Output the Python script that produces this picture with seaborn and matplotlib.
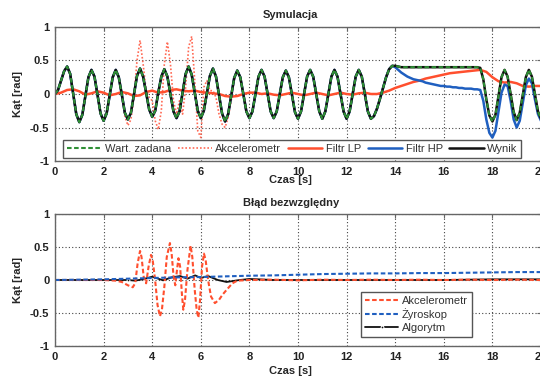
import numpy as np
import matplotlib
matplotlib.use("Agg")
import matplotlib.pyplot as plt
import seaborn as sns

# ---------------- data ----------------
# sample times
t_fine = np.arange(0, 20.0001, 0.125)     # 161 samples
t_lp = np.arange(0, 20.0001, 0.25)        # 81 samples

# Wart. zadana (reference angle)
zadana_vals = [
    0.00, 0.06, 0.20, 0.34, 0.41, 0.30, 0.00, -0.30,
    -0.42, -0.31, -0.03, 0.25, 0.36, 0.26, -0.02, -0.29,
    -0.40, -0.29, -0.02, 0.25, 0.36, 0.25, -0.01, -0.28,
    -0.38, -0.28, 0.00, 0.27, 0.38, 0.26, 0.02, -0.23,
    -0.34, -0.25, 0.02, 0.26, 0.37, 0.26, 0.00, -0.26,
    -0.36, -0.26, 0.02, 0.30, 0.41, 0.29, 0.02, -0.25,
    -0.36, -0.25, 0.01, 0.27, 0.38, 0.26, -0.01, -0.29,
    -0.41, -0.30, -0.03, 0.24, 0.35, 0.25, 0.00, -0.26,
    -0.36, -0.26, 0.00, 0.26, 0.36, 0.26, 0.00, -0.26,
    -0.36, -0.26, 0.00, 0.25, 0.35, 0.25, -0.01, -0.27,
    -0.37, -0.26, 0.00, 0.26, 0.36, 0.26, 0.00, -0.26,
    -0.37, -0.26, 0.00, 0.26, 0.36, 0.26, 0.00, -0.26,
    -0.37, -0.26, 0.00, 0.26, 0.36, 0.26, 0.00, -0.26,
    -0.37, -0.33, -0.22, -0.07, 0.09, 0.25, 0.37, 0.42,
    0.42, 0.41, 0.40, 0.40, 0.40, 0.40, 0.40, 0.40,
    0.40, 0.40, 0.40, 0.40, 0.40, 0.40, 0.40, 0.40,
    0.40, 0.40, 0.40, 0.40, 0.40, 0.40, 0.40, 0.40,
    0.40, 0.40, 0.40, 0.40, 0.39, 0.22, -0.08, -0.32,
    -0.41, -0.31, -0.03, 0.25, 0.36, 0.26, 0.00, -0.27,
    -0.39, -0.28, -0.01, 0.25, 0.36, 0.26, 0.00, -0.26,
    -0.37,
]

# Akcelerometr: follows the reference except between 2.75 s and 7.625 s
akc_mid_vals = [
    -0.03, -0.33, -0.47, -0.38, -0.05, 0.50, 0.80, 0.45,
    0.05, -0.05, -0.10, -0.40, -0.53, -0.25, 0.45, 0.78,
    0.45, -0.10, -0.30, -0.10, -0.30, 0.10, 0.70, 0.86,
    0.20, -0.55, -0.65, 0.10, 0.20, 0.05, 0.05, -0.05,
    -0.30, -0.45, -0.50, -0.35, -0.10, 0.22, 0.35, 0.25,
]
akc_vals = zadana_vals[:22] + akc_mid_vals + zadana_vals[62:]

# Filtr LP
lp_vals = [
    0.00, 0.02, 0.06, 0.07,
    0.04, -0.01, 0.01, 0.04,
    0.02, -0.02, 0.00, 0.03,
    0.01, -0.03, -0.02, 0.03,
    0.05, 0.02, 0.03, 0.06,
    0.07, 0.05, 0.04, 0.05,
    0.03, 0.02, 0.01, 0.00,
    -0.03, -0.04, -0.03, 0.00,
    0.02, 0.02, 0.00, 0.01,
    -0.01, -0.02, 0.00, 0.02,
    0.00, -0.02, 0.00, 0.02,
    0.00, -0.02, 0.00, 0.02,
    0.00, -0.01, 0.01, 0.02,
    0.00, 0.00, 0.02, 0.05,
    0.09, 0.12, 0.15, 0.18,
    0.20, 0.23, 0.25, 0.27,
    0.29, 0.31, 0.32, 0.33,
    0.34, 0.35, 0.36, 0.33,
    0.25, 0.19, 0.17, 0.18,
    0.16, 0.12, 0.11, 0.12,
    0.12,
]

# Filtr HP: same as the reference up to 13.875 s, then drifts
hp_tail_vals = [
    0.40, 0.36, 0.32, 0.29, 0.26, 0.24, 0.22, 0.21,
    0.20, 0.19, 0.17, 0.16, 0.15, 0.14, 0.13, 0.12,
    0.12, 0.11, 0.11, 0.10, 0.10, 0.09, 0.09, 0.08,
    0.08, 0.08, 0.07, 0.07, 0.06, -0.10, -0.38, -0.58,
    -0.65, -0.55, -0.27, 0.02, 0.14, 0.12, -0.10, -0.38,
    -0.50, -0.40, -0.13, 0.13, 0.23, 0.16, -0.08, -0.30,
    -0.40,
]
hp_vals = zadana_vals[:112] + hp_tail_vals

# Wynik coincides with the reference in the picture
wynik_vals = list(zadana_vals)

# ---- bottom panel: absolute errors ----
err_akc_t = [0, 1, 2, 2.5, 2.75, 3.0, 3.2, 3.3, 3.4, 3.5, 3.56, 3.65, 3.75, 3.85,
             3.95, 4.02, 4.12, 4.22, 4.32, 4.4, 4.5, 4.6, 4.73, 4.8, 4.88, 4.95,
             5.02, 5.08, 5.15, 5.22, 5.28, 5.35, 5.45, 5.58, 5.65, 5.75, 5.83, 5.9,
             5.97, 6.05, 6.13, 6.2, 6.3, 6.42, 6.58, 6.75, 6.9, 7.06, 7.3, 7.5,
             8, 9, 10, 11, 12, 13, 14, 15, 16, 17, 18, 19, 20]
err_akc_vals = [0, 0, 0, -0.01, -0.03, -0.08, -0.11, -0.05, 0.25, 0.44, 0.35, 0.05,
                -0.05, 0.20, 0.38, 0.30, 0.00, -0.38, -0.55, -0.45, -0.10, 0.35,
                0.56, 0.40, 0.05, -0.08, 0.15, 0.33, 0.20, -0.20, -0.45, -0.30,
                0.15, 0.52, 0.35, -0.15, -0.45, -0.57, -0.30, 0.20, 0.40, 0.30,
                0.00, -0.25, -0.35, -0.30, -0.22, -0.15, -0.05, -0.01,
                0.0, 0.005, -0.005, 0.005, 0, 0.005, 0, 0.005, 0, 0.005, 0, 0.005, 0]

err_zyro_t = [0, 1, 2, 3, 4, 5, 6, 7, 8, 9, 10, 11, 12, 13, 14, 15, 16, 17, 18, 19, 20]
err_zyro_vals = [0, 0.005, 0.01, 0.02, 0.03, 0.04, 0.045, 0.055, 0.065, 0.07, 0.08,
                 0.09, 0.095, 0.10, 0.10, 0.105, 0.105, 0.11, 0.115, 0.12, 0.12]

err_alg_t = [0, 1, 2, 3, 3.3, 3.6, 4.0, 4.45, 4.8, 5.15, 5.45, 5.77, 6.0, 6.3, 6.7,
             7.06, 7.6, 8.0, 8.4, 9, 10, 12, 14, 16, 18, 19, 20]
err_alg_vals = [0, 0, 0, 0, -0.01, 0.01, 0.05, -0.005, 0.04, 0.06, 0.02, 0.07, 0.03,
                0.06, 0.0, -0.03, 0.0, 0.015, 0.01, 0, 0, 0, 0, 0, 0.01, 0.01, 0.01]

x_ticks = list(range(0, 21, 2))
y_ticks = [-1, -0.5, 0, 0.5, 1]
y_tick_labels = ["-1", "-0.5", "0", "0.5", "1"]

# ---------------- styling ----------------
sns.set_style("white")
plt.rcParams["font.family"] = ["Liberation Sans", "DejaVu Sans"]
plt.rcParams["font.size"] = 8

C_GREEN = "#2f8f35"
C_RED = "#ff4f2e"
C_RED_LIGHT = "#ff6a55"
C_BLUE = "#1f5fc0"
C_BLACK = "#111111"

W, H = 540, 377
fig = plt.figure(figsize=(5.4, 3.77), dpi=100)
ax1 = fig.add_axes([55 / W, 1 - 161 / H, 486 / W, 134 / H])
ax2 = fig.add_axes([55 / W, 1 - 346 / H, 486 / W, 132 / H])


def style_axes(ax):
    ax.set_xlim(0, 20)
    ax.set_ylim(-1, 1)
    ax.set_xticks(x_ticks)
    ax.set_xticklabels([str(v) for v in x_ticks])
    ax.set_yticks(y_ticks)
    ax.set_yticklabels(y_tick_labels)
    ax.grid(True, color="#444444", linestyle=(0, (1, 2)), linewidth=0.8)
    for s in ax.spines.values():
        s.set_visible(True)
        s.set_color("#666666")
        s.set_linewidth(1.0)
    ax.tick_params(direction="in", length=3, width=0.8, color="#666666",
                   top=True, right=True, labelsize=8, pad=4, labelcolor="#222222")
    for lab in ax.get_xticklabels() + ax.get_yticklabels():
        lab.set_fontweight("bold")


def line(ax, x, y, **kw):
    sns.lineplot(x=x, y=y, ax=ax, estimator=None, errorbar=None, **kw)
    return ax.get_lines()[-1]


# ---- top panel ----
h_akc = line(ax1, t_fine, akc_vals, color=C_RED_LIGHT, linewidth=1.2,
             linestyle=(0, (1, 1.2)), zorder=2.0)
h_lp = line(ax1, t_lp, lp_vals, color=C_RED, linewidth=1.8, zorder=2.1)
h_hp = line(ax1, t_fine, hp_vals, color=C_BLUE, linewidth=1.8, zorder=2.2)
h_wyn = line(ax1, t_fine, wynik_vals, color=C_BLACK, linewidth=1.8, zorder=2.3)
h_zad = line(ax1, t_fine, zadana_vals, color=C_GREEN, linewidth=1.5,
             linestyle=(0, (2.2, 1.2)), zorder=2.4)
style_axes(ax1)
ax1.set_title("Symulacja", x=0.485, y=1.0, pad=6.5, fontsize=8, fontweight="bold")
ax1.set_xlabel("Czas [s]", fontsize=8, fontweight="bold")
ax1.set_ylabel("Kąt [rad]", fontsize=8, fontweight="bold")
ax1.xaxis.set_label_coords(0.485, -0.105)
ax1.yaxis.set_label_coords(-0.065, 0.5)

leg1 = ax1.legend([h_zad, h_akc, h_lp, h_hp, h_wyn],
                  ["Wart. zadana", "Akcelerometr", "Filtr LP", "Filtr HP", "Wynik"],
                  ncol=5, loc="lower left", bbox_to_anchor=(63 / W, 1 - 158 / H),
                  bbox_transform=fig.transFigure, frameon=True, fancybox=False,
                  framealpha=1, edgecolor="#555555", handlelength=3.1,
                  handletextpad=0.3, columnspacing=0.6, borderpad=0.35,
                  borderaxespad=0, fontsize=8)
leg1.get_frame().set_linewidth(1.0)
for tx in leg1.get_texts():
    tx.set_color("#333333")

# ---- bottom panel ----
g_alg = line(ax2, err_alg_t, err_alg_vals, color=C_BLACK, linewidth=1.3,
             marker=".", markersize=4, markevery=[3], zorder=2.0)
g_akc = line(ax2, err_akc_t, err_akc_vals, color=C_RED, linewidth=1.5,
             linestyle=(0, (2.2, 1.2)), zorder=2.1)
g_zyr = line(ax2, err_zyro_t, err_zyro_vals, color=C_BLUE, linewidth=1.5,
             linestyle=(0, (2.2, 1.2)), zorder=2.2)
style_axes(ax2)
ax2.set_title("Błąd bezwzględny", x=0.485, y=1.0, pad=5.8, fontsize=8, fontweight="bold")
ax2.set_xlabel("Czas [s]", fontsize=8, fontweight="bold")
ax2.set_ylabel("Kąt [rad]", fontsize=8, fontweight="bold")
ax2.xaxis.set_label_coords(0.485, -0.152)
ax2.yaxis.set_label_coords(-0.065, 0.5)

leg2 = ax2.legend([g_akc, g_zyr, g_alg], ["Akcelerometr", "Żyroskop", "Algorytm"],
                  ncol=1, loc="lower left", bbox_to_anchor=(361 / W, 1 - 337 / H),
                  bbox_transform=fig.transFigure, frameon=True, fancybox=False,
                  framealpha=1, edgecolor="#555555", handlelength=3.0,
                  handletextpad=0.35, labelspacing=0.25, borderpad=0.35,
                  borderaxespad=0, fontsize=8)
leg2.get_frame().set_linewidth(1.0)
for tx in leg2.get_texts():
    tx.set_color("#333333")

fig.savefig("out.png", dpi=100)
